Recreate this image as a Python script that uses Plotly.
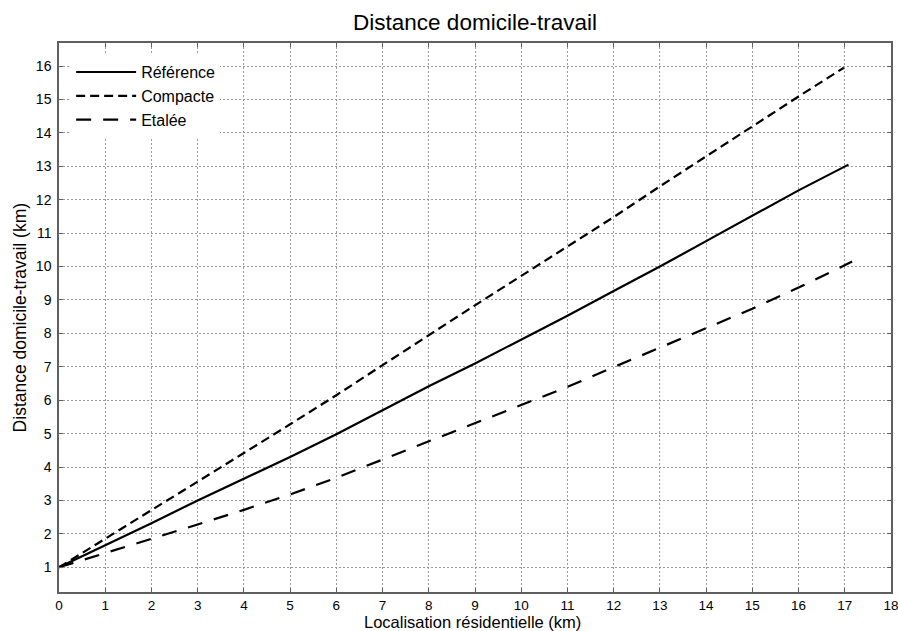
import plotly.graph_objects as go

ref_x = [0, 1, 2, 3, 4, 5, 6, 7, 8, 9, 10, 11, 12, 13, 14, 15, 16, 17.08]
ref_y = [1.0, 1.65, 2.32, 3.0, 3.64, 4.3, 4.98, 5.7, 6.42, 7.1, 7.81, 8.53, 9.27, 10.0, 10.76, 11.52, 12.28, 13.05]

comp_x = [0, 1, 2, 3, 4, 5, 6, 7, 8, 9, 10, 11, 12, 13, 14, 15, 16, 16.98]
comp_y = [1.0, 1.85, 2.7, 3.55, 4.42, 5.28, 6.15, 7.05, 7.95, 8.84, 9.72, 10.6, 11.48, 12.4, 13.3, 14.19, 15.09, 15.95]

etal_x = [0, 1, 2, 3, 4, 5, 6, 7, 8, 9, 10, 11, 12, 13, 14, 15, 16, 17.16]
etal_y = [1.0, 1.42, 1.85, 2.28, 2.72, 3.18, 3.68, 4.22, 4.77, 5.31, 5.85, 6.4, 6.99, 7.57, 8.14, 8.74, 9.37, 10.15]

x_ticks = list(range(0, 19))
y_ticks = list(range(1, 17))

FONT = "Liberation Sans, Arial, Helvetica, sans-serif"

fig = go.Figure()
fig.add_trace(go.Scatter(x=ref_x, y=ref_y, mode="lines", name="Référence",
                         line=dict(color="black", width=2.2)))
fig.add_trace(go.Scatter(x=comp_x, y=comp_y, mode="lines", name="Compacte",
                         line=dict(color="black", width=2.2, dash="9px,5px")))
fig.add_trace(go.Scatter(x=etal_x, y=etal_y, mode="lines", name="Etalée",
                         line=dict(color="black", width=2.2, dash="15px,12px")))

axis_common = dict(
    showline=True, linecolor="#606060", linewidth=1.5, mirror="allticks",
    ticks="inside", ticklen=4, tickcolor="#606060", tickwidth=1,
    showgrid=True, gridcolor="#9a9a9a", gridwidth=1, griddash="2px,2px",
    zeroline=False, automargin=False, ticklabeloverflow="allow",
)

fig.update_layout(
    width=898, height=631,
    margin=dict(l=59, r=7, t=43, b=39),
    paper_bgcolor="white", plot_bgcolor="white",
    title=dict(text="Distance domicile-travail", x=0.5, xanchor="center",
               xref="paper", y=0.965, yanchor="middle",
               font=dict(family=FONT, size=22.5, color="black")),
    xaxis=dict(range=[0, 18], tickvals=x_ticks, ticklabelstandoff=0,
               tickfont=dict(family=FONT, size=13.5, color="black"), **axis_common),
    yaxis=dict(range=[0.261, 16.69], tickvals=y_ticks, ticklabelstandoff=3,
               tickfont=dict(family=FONT, size=14, color="black"), **axis_common),
    legend=dict(x=0.0146, y=0.978, xanchor="left", yanchor="top",
                bgcolor="white", borderwidth=0, itemwidth=60,
                font=dict(family=FONT, size=16, color="black"),
                tracegroupgap=0),
    showlegend=True,
)

fig.add_annotation(text="Localisation résidentielle (km)", xref="paper", yref="paper",
                   x=0.4975, y=-0.0545, xanchor="center", yanchor="middle",
                   showarrow=False, borderpad=0,
                   font=dict(family=FONT, size=16.5, color="black"))
fig.add_annotation(text="Distance domicile-travail (km)", xref="paper", yref="paper",
                   x=-0.047, y=0.5, xanchor="center", yanchor="middle", textangle=-90,
                   showarrow=False, borderpad=0,
                   font=dict(family=FONT, size=17.5, color="black"))

fig.write_html("out.html", config={"displayModeBar": False},
               post_script="document.body.style.margin='0px';document.body.style.overflow='hidden';")
